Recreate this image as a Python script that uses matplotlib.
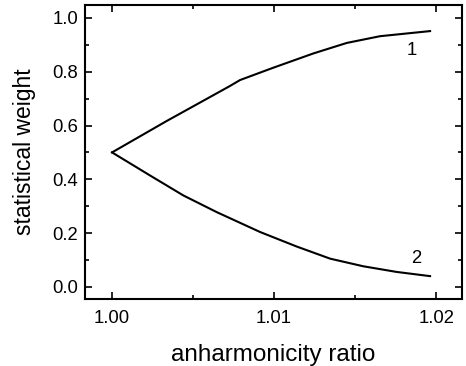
import matplotlib
matplotlib.use('Agg')
import matplotlib.pyplot as plt
from matplotlib.ticker import MultipleLocator

plt.rcParams['font.family'] = ['Liberation Sans', 'DejaVu Sans']

# curve 1 (upper branch)
x1 = [1.0, 1.00338, 1.00728, 1.0079, 1.00996, 1.01243, 1.01449, 1.01654, 1.01963]
y1 = [0.5, 0.617, 0.747, 0.769, 0.815, 0.868, 0.907, 0.932, 0.951]

# curve 2 (lower branch)
x2 = [1.0, 1.00235, 1.0044, 1.00646, 1.00914, 1.0114, 1.01346, 1.01551, 1.01757, 1.01963]
y2 = [0.5, 0.414, 0.340, 0.278, 0.204, 0.150, 0.105, 0.0766, 0.0556, 0.040]

fig = plt.figure(figsize=(4.66, 3.66), dpi=100)
ax = fig.add_axes([85 / 466, 1 - 299 / 366, 377 / 466, 294 / 366])

ax.plot(x1, y1, color='black', lw=1.5)
ax.plot(x2, y2, color='black', lw=1.5)
ax.text(1.0185, 0.877, '1', fontsize=13.3, ha='center', va='center')
ax.text(1.0188, 0.107, '2', fontsize=13.3, ha='center', va='center')

ax.set_xlim(0.99833, 1.0216)
ax.set_ylim(-0.045, 1.048)
ax.xaxis.set_major_locator(MultipleLocator(0.01))
ax.xaxis.set_minor_locator(MultipleLocator(0.005))
ax.yaxis.set_major_locator(MultipleLocator(0.2))
ax.yaxis.set_minor_locator(MultipleLocator(0.1))
ax.xaxis.set_major_formatter(plt.FuncFormatter(lambda v, p: f'{v:.2f}'))
ax.yaxis.set_major_formatter(plt.FuncFormatter(lambda v, p: f'{v:.1f}'))
ax.tick_params(which='both', direction='in', top=True, right=True, labelsize=13.3, width=1.2)
ax.tick_params(which='major', length=5)
ax.tick_params(which='minor', length=3)
ax.tick_params(axis='x', pad=8)
ax.tick_params(axis='y', pad=5)
for s in ax.spines.values():
    s.set_linewidth(1.5)

ax.set_xlabel('anharmonicity ratio', fontsize=17.5, labelpad=12)
ax.set_ylabel('statistical weight', fontsize=16.5, labelpad=12)

fig.savefig('out.png', dpi=100)
